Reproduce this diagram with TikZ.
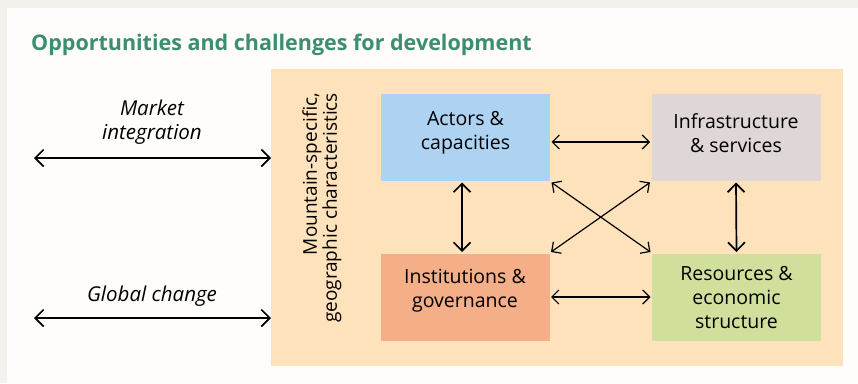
\documentclass[tikz,border=0pt]{standalone}
\usepackage{fontspec}
\setmainfont{Open Sans}
\usetikzlibrary{arrows.meta}
\definecolor{pagegrey}{HTML}{F4F0EC}
\definecolor{panelwhite}{HTML}{FEFDFB}
\definecolor{mountainorange}{HTML}{FEE2BC}
\definecolor{actorblue}{HTML}{AED3F2}
\definecolor{infragrey}{HTML}{DFD7D5}
\definecolor{institsalmon}{HTML}{F4AE88}
\definecolor{resourcegreen}{HTML}{D1DF9D}
\definecolor{titlegreen}{HTML}{3C8E6E}

\begin{document}
\begin{tikzpicture}[x=1pt, y=-1pt]
	\tikzstyle{box} = [rectangle, minimum width=169pt, minimum height=87pt, inner sep=0pt, outer sep=1.5pt]
	\tikzstyle{boxtext} = [align=center, font=\fontsize{19.5}{24}\selectfont]
	\tikzstyle{sidetext} = [align=center, font=\fontsize{20.5}{24}\selectfont\itshape]
	\tikzstyle{link} = [{Straight Barb[length=7pt,width=14pt]}-{Straight Barb[length=7pt,width=14pt]}, line width=1.2pt]
	\tikzstyle{biglink} = [{Straight Barb[length=8.5pt,width=17pt]}-{Straight Barb[length=8.5pt,width=17pt]}, line width=1.7pt]
	\fill[pagegrey] (0,0) rectangle (858,383);
	\fill[panelwhite] (7,8) rectangle (858,383);
	\node[anchor=base west, inner sep=0pt, text=titlegreen, font=\fontsize{21.5}{24}\selectfont\bfseries] (Title) at (31,50) {Opportunities and challenges for development};
	\node[rectangle, fill=mountainorange, minimum width=572pt, minimum height=297pt, anchor=north west, inner sep=0pt] (Mountain) at (271,69) {};
	\node[rotate=90, align=right, font=\fontsize{19}{20}\selectfont] (Geography) at (322,208) {Mountain-specific,\\geographic characteristics};
	\node[box, fill=actorblue] (Actors) at (465.5,137.5) {};
	\node[box, fill=infragrey] (Infra) at (736,137.5) {};
	\node[box, fill=institsalmon] (Institutions) at (465,297) {};
	\node[box, fill=resourcegreen] (Resources) at (736.5,297) {};
	\node[boxtext] (ActorsText) at (465.5,133) {Actors \&\\capacities};
	\node[boxtext] (InfraText) at (736,133) {Infrastructure\\\& services};
	\node[boxtext] (InstitutionsText) at (465,291) {Institutions \&\\governance};
	\node[boxtext] (ResourcesText) at (736.5,298) {Resources \&\\economic\\structure};
	\node[sidetext] (Market) at (152,122) {Market\\integration};
	\node[sidetext] (Global) at (152,296) {Global change};
	\coordinate (MarketEnd) at (34,158);
	\coordinate (GlobalEnd) at (34,318);
	\draw [biglink] (MarketEnd)--(MarketEnd -| Mountain.west);
	\draw [biglink] (GlobalEnd)--(GlobalEnd -| Mountain.west);
	\draw [biglink] (Actors.south -| 462,0)--(Institutions.north -| 462,0);
	\draw [biglink] (Infra.south)--(Resources.north);
	\draw [link] ([yshift=-4.5pt]Actors.east)--([yshift=-4.5pt]Infra.west);
	\draw [link] (Institutions)--(Resources);
	\draw [link] (Actors.south east)--(Resources.north west);
	\draw [link] (Institutions.north east)--(Infra.south west);
\end{tikzpicture}
\end{document}
